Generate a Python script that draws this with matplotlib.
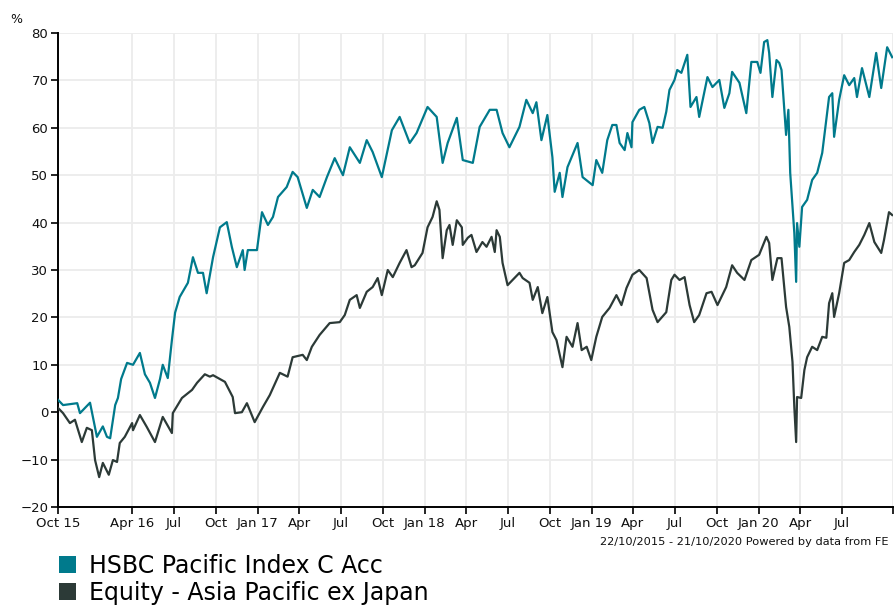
#!/usr/bin/env python3
"""
Cumulative performance: HSBC Pacific Index C Acc vs sector average,
22/10/2015 - 21/10/2020.

Output: out.png
"""

from datetime import date, timedelta

import matplotlib
matplotlib.use("Agg")
import matplotlib.pyplot as plt
import matplotlib.dates as mdates
from matplotlib.patches import Patch

START = date(2015, 10, 22)
END   = date(2020, 10, 21)

# ---- Data: day offsets from START, % growth --------------------------------
FUND_DAY = [
    0, 11, 42, 48, 70, 85, 98, 107, 114, 125, 131, 138, 151, 164, 179, 190,
    201, 212, 223, 229, 240, 249, 256, 266, 284, 295, 306, 317, 325, 339,
    354, 369, 380, 391, 404, 408, 415, 435, 446, 459, 470, 481, 500, 513,
    524, 544, 557, 572, 588, 605, 623, 638, 660, 675, 688, 708, 730, 747,
    769, 784, 808, 828, 841, 852, 872, 885, 907, 922, 944, 959, 972, 987,
    1009, 1024, 1038, 1046, 1057, 1070, 1081, 1086, 1097, 1103, 1114, 1136,
    1147, 1169, 1177, 1190, 1201, 1212, 1221, 1228, 1239, 1245, 1254, 1256,
    1271, 1282, 1293, 1300, 1311, 1322, 1330, 1337, 1348, 1354, 1363, 1376,
    1383, 1396, 1402, 1420, 1431, 1446, 1457, 1468, 1474, 1490, 1505, 1516,
    1529, 1536, 1544, 1551, 1555, 1562, 1571, 1577, 1582, 1588, 1592, 1597,
    1601, 1606, 1610, 1614, 1616, 1621, 1627, 1638, 1649, 1660, 1671, 1686,
    1693, 1697, 1708, 1719, 1730, 1741, 1747, 1758, 1774, 1789, 1800, 1813,
    1824,
]
FUND_PCT = [
    2.6, 1.5, 1.9, -0.2, 2.0, -5.2, -3.0, -5.2, -5.5, 1.5, 3.0, 7.0, 10.4,
    10.0, 12.5, 8.0, 6.2, 3.0, 7.0, 10.0, 7.2, 15.2, 21.0, 24.3, 27.3, 32.7,
    29.4, 29.4, 25.1, 32.7, 39.0, 40.1, 34.9, 30.6, 34.2, 30.0, 34.2, 34.2,
    42.2, 39.5, 41.2, 45.4, 47.5, 50.7, 49.6, 43.1, 46.9, 45.4, 49.6, 53.6,
    50.0, 55.9, 52.6, 57.4, 54.9, 49.6, 59.5, 62.3, 56.8, 58.9, 64.4, 62.3,
    52.6, 56.8, 62.1, 53.2, 52.6, 60.2, 63.8, 63.8, 58.9, 55.9, 60.2, 65.9,
    63.1, 65.4, 57.4, 62.7, 53.8, 46.5, 50.5, 45.4, 51.7, 56.8, 49.6, 47.9,
    53.2, 50.5, 57.4, 60.6, 60.6, 56.8, 55.3, 58.9, 55.9, 61.2, 63.8, 64.4,
    61.0, 56.8, 60.2, 60.0, 63.4, 68.0, 70.1, 72.2, 71.6, 75.4, 64.4, 66.5,
    62.3, 70.7, 68.6, 70.1, 64.2, 67.3, 71.8, 69.5, 63.1, 73.9, 73.9, 71.6,
    78.1, 78.5, 75.8, 66.5, 74.3, 73.7, 72.2, 63.8, 58.5, 63.8, 50.5, 43.3,
    37.8, 27.5, 39.9, 34.9, 43.3, 44.8, 49.0, 50.5, 54.7, 66.5, 67.3, 58.1,
    65.9, 71.1, 69.0, 70.5, 66.5, 72.6, 66.5, 75.8, 68.4, 77.0, 74.9,
]

SECTOR_DAY = [
    0, 11, 26, 37, 52, 63, 74, 81, 90, 98, 111, 120, 129, 135, 146, 162, 164,
    179, 194, 212, 229, 249, 251, 271, 293, 304, 321, 332, 339, 350, 365,
    382, 387, 402, 413, 430, 448, 463, 478, 485, 502, 513, 535, 544, 555,
    572, 594, 616, 627, 638, 653, 660, 675, 688, 699, 708, 721, 732, 747,
    762, 773, 780, 797, 808, 819, 828, 834, 841, 850, 856, 863, 872, 883,
    885, 896, 904, 915, 928, 937, 948, 955, 959, 966, 972, 983, 994, 1009,
    1016, 1031, 1038, 1049, 1059, 1070, 1081, 1090, 1103, 1112, 1125, 1136,
    1145, 1156, 1166, 1177, 1190, 1206, 1221, 1232, 1243, 1256, 1271, 1287,
    1300, 1311, 1330, 1341, 1348, 1359, 1370, 1381, 1391, 1402, 1418, 1429,
    1442, 1461, 1474, 1485, 1501, 1516, 1533, 1549, 1555, 1562, 1573, 1582,
    1592, 1599, 1606, 1610, 1614, 1616, 1625, 1632, 1638, 1649, 1660, 1671,
    1680, 1686, 1693, 1697, 1708, 1719, 1730, 1741, 1752, 1763, 1774, 1785,
    1800, 1806, 1817, 1824,
]
SECTOR_PCT = [
    0.9, -0.2, -2.3, -1.6, -6.3, -3.3, -3.8, -10.1, -13.7, -10.7, -13.2,
    -10.1, -10.5, -6.5, -5.2, -2.3, -3.8, -0.6, -3.1, -6.3, -1.0, -4.4, -0.2,
    3.0, 4.7, 6.2, 8.0, 7.5, 7.8, 7.2, 6.4, 3.2, -0.2, 0.0, 1.9, -2.1, 1.1,
    3.6, 6.8, 8.3, 7.5, 11.6, 12.1, 11.0, 13.8, 16.3, 18.8, 19.0, 20.5,
    23.7, 24.7, 22.0, 25.4, 26.4, 28.3, 24.7, 30.0, 28.5, 31.5, 34.2, 30.6,
    31.0, 33.6, 39.0, 41.2, 44.5, 42.7, 32.5, 38.4, 39.5, 35.3, 40.5, 39.0,
    35.3, 36.8, 37.4, 33.8, 35.9, 34.9, 37.0, 33.8, 38.4, 37.0, 31.5, 26.8,
    27.9, 29.4, 28.3, 27.3, 23.7, 26.4, 20.9, 24.3, 16.9, 15.2, 9.5, 15.9,
    13.8, 18.8, 13.1, 13.8, 11.0, 15.9, 20.1, 22.0, 24.7, 22.6, 26.2, 29.0,
    30.0, 28.3, 21.6, 19.0, 21.1, 27.9, 29.0, 27.9, 28.5, 22.6, 19.0, 20.5,
    25.1, 25.4, 22.6, 26.4, 31.0, 29.4, 27.9, 32.1, 33.2, 37.0, 35.7, 27.9,
    32.5, 32.5, 22.2, 18.0, 10.6, 1.1, -6.3, 3.2, 3.0, 8.9, 11.6, 13.8, 13.1,
    15.9, 15.7, 23.0, 25.1, 20.1, 25.1, 31.5, 32.1, 33.8, 35.3, 37.4, 39.9,
    35.9, 33.6, 36.3, 42.2, 41.6,
]

SERIES_NAMES = ["HSBC Pacific Index C Acc", "Equity - Asia Pacific ex Japan"]
SERIES_COLS  = ["#007a8c", "#2c3a37"]

TICK_DATES  = [START] + [date(y, m, 1) for y, m in [
    (2016, 4), (2016, 7), (2016, 10), (2017, 1), (2017, 4), (2017, 7),
    (2017, 10), (2018, 1), (2018, 4), (2018, 7), (2018, 10), (2019, 1),
    (2019, 4), (2019, 7), (2019, 10), (2020, 1), (2020, 4), (2020, 7),
]] + [END]
TICK_LABELS = ["Oct 15", "Apr 16", "Jul", "Oct", "Jan 17", "Apr", "Jul", "Oct",
               "Jan 18", "Apr", "Jul", "Oct", "Jan 19", "Apr", "Jul", "Oct",
               "Jan 20", "Apr", "Jul", ""]
Y_TICKS = list(range(-20, 81, 10))

plt.rcParams.update({
    "font.family": ["DejaVu Sans"],
    "font.size":   9.5,
})


def to_dates(days):
    return [START + timedelta(days=d) for d in days]


def main() -> None:
    fig = plt.figure(figsize=(8.94, 6.06), dpi=100)
    ax  = fig.add_axes([0.0649, 0.1634, 0.9341, 0.7821])

    ax.plot(to_dates(SECTOR_DAY), SECTOR_PCT, color=SERIES_COLS[1],
            lw=1.6, zorder=3)
    ax.plot(to_dates(FUND_DAY), FUND_PCT, color=SERIES_COLS[0],
            lw=1.6, zorder=4)

    # ---- Axes ----
    ax.set_xlim(START, END)
    ax.set_ylim(-20, 80)
    ax.set_yticks(Y_TICKS)
    ax.set_xticks([mdates.date2num(d) for d in TICK_DATES])
    ax.set_xticklabels(TICK_LABELS)
    ax.grid(True, color="#ececec", lw=1.3)
    ax.set_axisbelow(True)
    for side in ("top", "right"):
        ax.spines[side].set_visible(False)
    for side in ("left", "bottom"):
        ax.spines[side].set_linewidth(1.4)
        ax.spines[side].set_color("black")
    ax.tick_params(length=5, width=1.2, color="black", labelsize=9.5,
                   labelcolor="#111111", pad=2)

    fig.text(0.011, 0.962, "%", fontsize=9, color="#111111")
    fig.text(0.994, 0.100, "22/10/2015 - 21/10/2020 Powered by data from FE",
             fontsize=8.2, color="#111111", ha="right")

    # ---- Legend ----
    handles = [Patch(facecolor=c, edgecolor="none") for c in SERIES_COLS]
    fig.legend(handles, SERIES_NAMES, loc="upper left",
               bbox_to_anchor=(0.066, 0.086), frameon=False, fontsize=17,
               handlelength=0.7, handleheight=0.7, handletextpad=0.55,
               labelspacing=0.12, borderaxespad=0, borderpad=0)

    fig.savefig("out.png", dpi=100)


if __name__ == "__main__":
    main()
